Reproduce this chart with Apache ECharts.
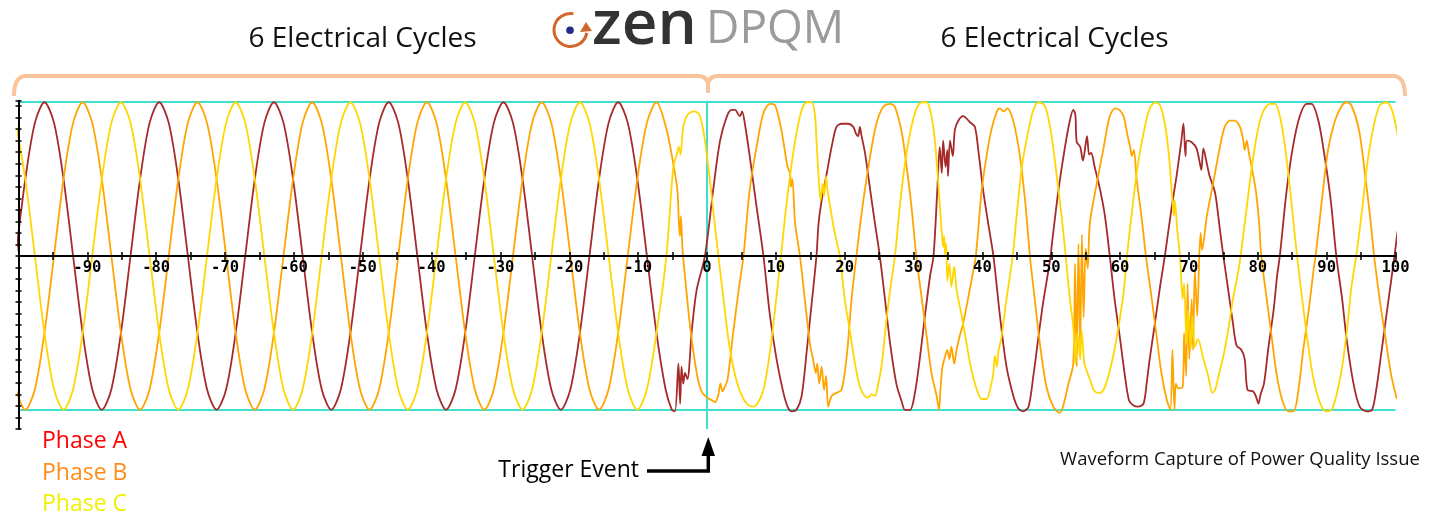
<!DOCTYPE html>
<html>
<head>
<meta charset="utf-8">
<title>Waveform Capture</title>
<script src="https://cdn.jsdelivr.net/npm/echarts@6/dist/echarts.min.js"></script>
<style>
html, body { margin: 0; padding: 0; background: #fff; }
#chart { width: 1438px; height: 513px; }
</style>
</head>
<body>
<div id="chart"></div>
<script>
// time in ms, values in % of nominal peak
// steady part before the event, one point every 30 degrees
var preTime = [
    -100.40, -99.01, -97.62, -96.23, -94.84, -93.46, -92.07, -90.68, -89.29, -87.90, -86.51, -85.12,
    -83.73, -82.34, -80.96, -79.57, -78.18, -76.79, -75.40, -74.01, -72.62, -71.23, -69.84, -68.46,
    -67.07, -65.68, -64.29, -62.90, -61.51, -60.12, -58.73, -57.34, -55.96, -54.57, -53.18, -51.79,
    -50.40, -49.01, -47.62, -46.23, -44.84, -43.46, -42.07, -40.68, -39.29, -37.90, -36.51, -35.12,
    -33.73, -32.34, -30.96, -29.57, -28.18, -26.79, -25.40, -24.01, -22.62, -21.23, -19.84, -18.46,
    -17.07, -15.68, -14.29, -12.90, -11.51, -10.12, -8.73, -7.34
];
var preA = [
    0, 50, 86.6, 100, 86.6, 50, 0, -50, -86.6, -100, -86.6, -50,
    0, 50, 86.6, 100, 86.6, 50, 0, -50, -86.6, -100, -86.6, -50,
    0, 50, 86.6, 100, 86.6, 50, 0, -50, -86.6, -100, -86.6, -50,
    0, 50, 86.6, 100, 86.6, 50, 0, -50, -86.6, -100, -86.6, -50,
    0, 50, 86.6, 100, 86.6, 50, 0, -50, -86.6, -100, -86.6, -50,
    0, 50, 86.6, 100, 86.6, 50, 0, -50
];
var preB = [
    -86.6, -100, -86.6, -50, 0, 50, 86.6, 100, 86.6, 50, 0, -50,
    -86.6, -100, -86.6, -50, 0, 50, 86.6, 100, 86.6, 50, 0, -50,
    -86.6, -100, -86.6, -50, 0, 50, 86.6, 100, 86.6, 50, 0, -50,
    -86.6, -100, -86.6, -50, 0, 50, 86.6, 100, 86.6, 50, 0, -50,
    -86.6, -100, -86.6, -50, 0, 50, 86.6, 100, 86.6, 50, 0, -50,
    -86.6, -100, -86.6, -50, 0, 50, 86.6, 100
];
var preC = [
    86.6, 50, 0, -50, -86.6, -100, -86.6, -50, 0, 50, 86.6, 100,
    86.6, 50, 0, -50, -86.6, -100, -86.6, -50, 0, 50, 86.6, 100,
    86.6, 50, 0, -50, -86.6, -100, -86.6, -50, 0, 50, 86.6, 100,
    86.6, 50, 0, -50, -86.6, -100, -86.6, -50, 0, 50, 86.6, 100,
    86.6, 50, 0, -50, -86.6, -100, -86.6, -50, 0, 50, 86.6, 100,
    86.6, 50, 0, -50, -86.6, -100, -86.6, -50
];

// disturbed part around and after the trigger, [ms, value]
var eventA = [
    [-6.0, -87], [-5.1, -100], [-4.65, -101], [-4.15, -70], [-3.9, -96], [-3.7, -72], [-3.45, -83],
    [-3.2, -76], [-2.85, -80], [-2.2, -48], [-1.5, -22], [-0.3, 0], [0.9, 43], [1.9, 75], [2.9, 91],
    [3.6, 95], [4.1, 95], [4.55, 92], [4.8, 91], [5.1, 94], [5.5, 86], [6.2, 65], [7.2, 32], [8.2, 0],
    [9.15, -39], [10.1, -67], [11.1, -89], [11.8, -99], [12.3, -101], [13.0, -100], [13.75, -91],
    [14.5, -61], [15.2, -31], [15.9, 0], [16.2, 21], [16.65, 36], [17.4, 54], [18.1, 71], [18.8, 84],
    [19.55, 86], [20.5, 86], [21.25, 84], [21.6, 80], [21.95, 78], [22.2, 84], [22.45, 78], [22.95, 67],
    [23.7, 43], [24.4, 21], [25.1, 0], [25.85, -28], [26.6, -57], [27.5, -83], [28.3, -95], [28.75, -100],
    [29.5, -100], [30.2, -89], [30.9, -67], [31.65, -39], [32.4, -13], [32.9, 0], [33.45, 43], [33.8, 71],
    [34.1, 54], [34.3, 75], [34.65, 58], [34.9, 69], [35.0, 52], [35.3, 75], [35.7, 65], [36.0, 82],
    [36.5, 88], [37.2, 91], [38.2, 87], [38.9, 84], [39.4, 69], [40.1, 43], [40.85, 21], [41.6, 0],
    [42.55, -39], [43.5, -72], [44.5, -91], [45.2, -99], [45.9, -101], [46.7, -98], [47.4, -78],
    [48.1, -54], [48.8, -31], [49.6, -9], [49.9, 0], [50.1, 8], [51.05, 43], [52.0, 71], [52.7, 88],
    [53.2, 95], [53.5, 92], [53.7, 74], [54.2, 71], [54.6, 62], [55.0, 73], [55.2, 78], [55.5, 66],
    [55.8, 67], [56.3, 58], [57.1, 43], [57.8, 26], [58.5, 0], [59.2, -28], [60.0, -54], [60.7, -78],
    [61.3, -94], [61.9, -97], [62.6, -98], [63.4, -96], [63.85, -83], [64.3, -67], [65.05, -44],
    [65.8, -20], [66.5, 0], [67.5, 32], [68.2, 52], [68.9, 75], [69.2, 86], [69.5, 65], [69.7, 75],
    [70.4, 74], [71.1, 70], [71.6, 60], [71.8, 56], [72.1, 70], [72.6, 60], [73.0, 52], [73.8, 41],
    [74.5, 17], [75.0, 0], [75.7, -22], [76.4, -44], [76.9, -58], [77.6, -61], [78.1, -67], [78.5, -87],
    [79.3, -88], [79.7, -91], [80.1, -96], [80.4, -90], [80.9, -83], [81.5, -61], [82.3, -35],
    [82.8, -13], [83.2, 0], [84.2, 43], [85.1, 71], [86.1, 91], [87.1, 99], [87.8, 99], [88.8, 88],
    [89.7, 65], [90.6, 36], [91.4, 0], [92.25, -28], [92.9, -54], [93.9, -83], [94.8, -98], [95.8, -101],
    [96.6, -100], [97.2, -87], [98.0, -61], [99.0, -28], [99.85, 0], [100.3, 16]
];
var eventB = [
    [-5.86, 82], [-4.9, 60], [-4.3, 43], [-4.08, 21], [-3.92, 13], [-3.8, 26], [-3.55, 4], [-3.2, -13],
    [-2.5, -44], [-1.5, -76], [-0.8, -88], [0.0, -92], [0.8, -94], [1.2, -95], [1.65, -90], [1.95, -83],
    [2.25, -88], [2.6, -85], [3.0, -80], [3.8, -50], [4.6, -22], [5.3, 0], [6.2, 43], [7.2, 71], [8.2, 93],
    [9.15, 99], [9.9, 98], [10.8, 82], [11.7, 58], [12.05, 54], [12.2, 45], [12.4, 50], [12.8, 21],
    [13.5, 0], [14.2, -28], [14.95, -57], [15.4, -67], [15.8, -76], [16.0, -70], [16.3, -83], [16.65, -72],
    [17.0, -87], [17.3, -78], [17.6, -98], [18.1, -91], [18.8, -89], [19.55, -87], [20.3, -65], [21.0, -28],
    [21.7, 0], [22.7, 36], [23.7, 65], [24.6, 86], [25.6, 97], [26.6, 99], [27.3, 97], [28.3, 80],
    [29.0, 58], [29.7, 32], [30.4, 0], [31.2, -28], [31.9, -52], [32.6, -76], [33.35, -91], [33.7, -100],
    [33.9, -87], [34.2, -72], [34.6, -65], [34.9, -61], [35.2, -67], [35.5, -59], [35.9, -70], [36.25, -61],
    [36.7, -52], [37.2, -44], [37.9, -28], [38.7, -9], [39.05, 0], [39.9, 43], [40.6, 65], [41.3, 82],
    [42.1, 94], [42.5, 96], [43.1, 94], [43.6, 96], [44.1, 93], [44.7, 84], [45.45, 65], [46.2, 36],
    [46.9, 0], [47.6, -28], [48.35, -57], [49.3, -85], [50.3, -98], [51.2, -102], [51.7, -98], [52.5, -83],
    [53.2, -70], [53.45, -5], [53.7, -72], [53.95, 8], [54.2, -60], [54.45, 14], [54.7, -40], [55.0, 5],
    [55.3, -8], [55.6, 21], [56.6, 47], [57.55, 69], [58.5, 91], [59.3, 96], [59.9, 95], [60.5, 91],
    [61.1, 78], [61.5, 70], [61.7, 65], [62.0, 69], [62.4, 50], [63.1, 26], [63.75, 0], [64.6, -28],
    [65.3, -52], [66.0, -76], [66.75, -93], [67.3, -100], [67.6, -61], [67.9, -100], [68.1, -83],
    [68.45, -86], [69.1, -85], [69.3, -50], [69.6, -78], [69.8, -18], [70.05, -67], [70.4, -28],
    [70.6, -61], [70.85, -9], [71.2, -39], [71.5, 0], [71.7, 15], [71.9, 4], [72.6, 26], [73.5, 47],
    [74.5, 71], [75.2, 84], [75.95, 88], [76.6, 88], [77.4, 84], [77.9, 75], [78.1, 69], [78.4, 75],
    [78.7, 67], [79.1, 58], [79.7, 43], [80.2, 21], [80.5, 0], [81.3, -28], [82.0, -52], [82.7, -76],
    [83.5, -93], [84.4, -101], [85.2, -101], [85.9, -87], [86.6, -61], [87.4, -35], [88.1, -9], [88.4, 0],
    [89.3, 36], [90.2, 69], [91.2, 88], [92.25, 98], [92.9, 100], [93.6, 98], [94.7, 82], [95.6, 52],
    [96.3, 26], [96.9, 0], [97.7, -28], [98.5, -52], [99.4, -78], [100.2, -93]
];
var eventC = [
    [-5.9, 0], [-4.9, 58], [-4.45, 65], [-4.1, 71], [-3.85, 66], [-3.45, 84], [-2.8, 92], [-1.85, 94],
    [-1.1, 92], [-0.4, 78], [0.3, 54], [1.0, 26], [1.65, 0], [2.4, -28], [3.1, -54], [3.8, -72],
    [4.55, -85], [5.3, -93], [6.0, -97], [6.7, -98], [7.45, -95], [8.2, -87], [8.9, -70], [9.6, -46],
    [10.2, -22], [10.75, 0], [11.5, 32], [12.3, 60], [13.0, 80], [13.75, 95], [14.5, 100], [15.2, 100],
    [15.7, 91], [15.9, 75], [16.2, 52], [16.5, 36], [16.8, 47], [17.0, 39], [17.3, 52], [17.5, 43],
    [17.9, 32], [18.3, 21], [18.8, 10], [19.3, 0], [20.0, -28], [20.8, -50], [21.5, -70], [22.2, -85],
    [22.9, -91], [23.4, -92], [23.9, -90], [24.4, -91], [24.7, -87], [25.4, -70], [26.0, -44], [26.6, -22],
    [27.3, 0], [28.0, 32], [28.75, 60], [29.5, 80], [30.35, 95], [31.2, 100], [31.9, 100], [32.6, 91],
    [33.1, 75], [33.6, 47], [34.1, 15], [34.3, 6], [34.45, 13], [34.6, 0], [34.75, 8], [34.9, -16],
    [35.2, -5], [35.5, -20], [35.9, -7], [36.25, -22], [37.0, -39], [37.7, -57], [38.4, -74], [39.2, -87],
    [39.9, -93], [40.6, -93], [41.2, -85], [41.6, -76], [41.8, -65], [42.1, -72], [42.3, -63], [42.8, -52],
    [43.5, -28], [44.4, 0], [45.1, 32], [45.8, 60], [46.7, 82], [47.4, 95], [48.1, 100], [48.8, 99],
    [49.3, 95], [50.05, 78], [50.8, 52], [51.5, 26], [52.1, 0], [52.7, -28], [53.2, -46], [53.5, -70],
    [53.8, -50], [54.2, -67], [54.4, -48], [54.8, -70], [55.1, -74], [55.6, -80], [56.3, -88], [57.1, -89],
    [57.7, -86], [58.3, -78], [59.0, -65], [59.7, -48], [60.5, -24], [61.0, 0], [61.8, 32], [62.6, 60],
    [63.5, 82], [64.3, 96], [65.1, 100], [65.8, 98], [66.5, 86], [67.1, 65], [67.6, 36], [67.8, 26],
    [67.95, 36], [68.3, 17], [68.7, 0], [69.1, -28], [69.3, -18], [69.65, -57], [69.9, -35], [70.25, -61],
    [70.5, -39], [70.85, -59], [71.3, -54], [72.1, -67], [72.8, -78], [73.4, -89], [73.8, -87], [74.3, -78],
    [75.0, -65], [75.7, -48], [76.4, -28], [77.2, -9], [77.5, 0], [78.4, 32], [79.2, 60], [80.1, 84],
    [80.9, 95], [81.8, 99], [82.5, 99], [83.2, 91], [83.9, 73], [84.7, 43], [85.2, 21], [85.7, 0],
    [86.45, -28], [87.2, -54], [88.0, -78], [89.0, -95], [89.95, -101], [90.7, -100], [91.4, -91],
    [92.25, -72], [93.0, -46], [93.6, -20], [94.3, 0], [95.2, 32], [95.9, 60], [96.8, 84], [97.7, 98],
    [98.7, 100], [99.4, 96], [99.9, 88], [100.3, 79]
];

var phaseNames = ['Phase A', 'Phase B', 'Phase C'];
var lineColors = ['#a52a2a', '#ffa500', '#ffd700'];
var labelColors = ['#ff0000', '#ff8c1a', '#f0f000'];
var nominalPeak = 100;
var triggerTime = 0;

function joinData(pre, ev) {
    var out = [];
    for (var i = 0; i < preTime.length; i++) {
        out.push([preTime[i], pre[i]]);
    }
    return out.concat(ev);
}

var chart = echarts.init(document.getElementById('chart'));

var axisFont = 'DejaVu Sans Mono';
var textFont = '"Open Sans"';
var braceColor = '#f9c39b';

// grid: y range -112.5..101 over 328.3px, so value 0 sits 173px above the bottom edge
var zeroOffset = -173;

function braceLine(x1, y1, x2, y2) {
    return { type: 'line', shape: { x1: x1, y1: y1, x2: x2, y2: y2 }, style: { stroke: braceColor, lineWidth: 4 } };
}
function braceCurve(x1, y1, cx, cy, x2, y2) {
    return { type: 'bezierCurve', shape: { x1: x1, y1: y1, cpx1: cx, cpy1: cy, x2: x2, y2: y2 }, style: { stroke: braceColor, lineWidth: 4, fill: null } };
}
function label(text, x, y, size, color, align) {
    return {
        type: 'text',
        style: { text: text, x: x, y: y, textAlign: align || 'left', textVerticalAlign: 'middle', fill: color, font: size + 'px ' + textFont }
    };
}

var option = {
    animation: false,
    backgroundColor: '#ffffff',
    grid: { left: 18.5, right: 42.5, top: 100.7, bottom: 84, containLabel: false },
    xAxis: [{
        type: 'value',
        position: 'bottom',
        offset: zeroOffset,
        min: -100,
        max: 100,
        interval: 5,
        z: 5,
        axisLine: { onZero: false, lineStyle: { color: '#000', width: 2 } },
        axisTick: { show: true, length: 4, lineStyle: { color: '#000', width: 1.5 } },
        axisLabel: {
            margin: 4,
            color: '#000',
            fontFamily: axisFont,
            fontWeight: 'bold',
            fontSize: 15.5,
            formatter: function (v) {
                return (v % 10 === 0 && v > -100) ? String(v) : '';
            }
        },
        splitLine: { show: false }
    }, {
        type: 'value',
        position: 'bottom',
        offset: zeroOffset,
        min: -100,
        max: 100,
        interval: 5,
        z: 5,
        axisLine: { show: false, onZero: false },
        axisTick: { show: true, inside: true, length: 4, lineStyle: { color: '#000', width: 1.5 } },
        axisLabel: { show: false },
        splitLine: { show: false }
    }],
    yAxis: [{
        type: 'value',
        min: -112.5,
        max: 101,
        interval: 7.5,
        z: 5,
        axisLine: { show: true, onZero: false, lineStyle: { color: '#000', width: 2 } },
        axisTick: { show: true, length: 3, lineStyle: { color: '#000', width: 1.5 } },
        axisLabel: { show: false },
        splitLine: { show: false }
    }, {
        type: 'value',
        position: 'left',
        min: -112.5,
        max: 101,
        interval: 7.5,
        z: 5,
        axisLine: { show: false, onZero: false },
        axisTick: { show: true, inside: true, length: 3, lineStyle: { color: '#000', width: 1.5 } },
        axisLabel: { show: false },
        splitLine: { show: false }
    }],
    series: [
        {
            name: phaseNames[0],
            type: 'line',
            data: joinData(preA, eventA),
            showSymbol: false,
            smooth: 0.3,
            lineStyle: { color: lineColors[0], width: 1.8 },
            itemStyle: { color: lineColors[0] },
            markLine: {
                silent: true,
                symbol: ['none', 'none'],
                z: 1,
                label: { show: false },
                lineStyle: { color: '#40e0d0', width: 2, type: 'solid' },
                data: [{ yAxis: nominalPeak }, { yAxis: -nominalPeak }, { xAxis: triggerTime }]
            }
        },
        {
            name: phaseNames[1],
            type: 'line',
            data: joinData(preB, eventB),
            showSymbol: false,
            smooth: 0.3,
            lineStyle: { color: lineColors[1], width: 1.8 },
            itemStyle: { color: lineColors[1] }
        },
        {
            name: phaseNames[2],
            type: 'line',
            data: joinData(preC, eventC),
            showSymbol: false,
            smooth: 0.3,
            lineStyle: { color: lineColors[2], width: 1.8 },
            itemStyle: { color: lineColors[2] }
        }
    ],
    graphic: [
        // braces over each half
        braceCurve(14, 96, 14, 76, 26, 76),
        braceLine(26, 76, 698, 76),
        braceCurve(698, 76, 708, 76, 708, 86),
        braceLine(708, 86, 708, 93),
        braceCurve(718, 76, 708, 76, 708, 86),
        braceLine(718, 76, 1393, 76),
        braceCurve(1393, 76, 1405, 76, 1405, 96),
        label('6 Electrical Cycles', 362.5, 39, 28, '#111', 'center'),
        label('6 Electrical Cycles', 1054.5, 39, 28, '#111', 'center'),
        // logo
        {
            type: 'arc',
            shape: { cx: 570.5, cy: 30, r: 16.5, startAngle: 10 * Math.PI / 180, endAngle: 280 * Math.PI / 180, clockwise: true },
            style: { stroke: '#d2672d', lineWidth: 3, fill: null }
        },
        {
            type: 'polygon',
            shape: { points: [[586, 22], [580, 32], [592, 31]] },
            style: { fill: '#d2672d' }
        },
        {
            type: 'circle',
            shape: { cx: 570, cy: 30.3, r: 3.8 },
            style: { fill: '#252a8a' }
        },
        {
            type: 'text',
            style: { text: 'zen', x: 592, y: 26, textAlign: 'left', textVerticalAlign: 'middle', fill: '#333333', font: '600 62px ' + textFont }
        },
        {
            type: 'text',
            style: { text: 'DPQM', x: 706, y: 30, textAlign: 'left', textVerticalAlign: 'middle', fill: '#9b9b9b', font: '46px ' + textFont }
        },
        // phase names
        label(phaseNames[0], 42, 441, 23, labelColors[0]),
        label(phaseNames[1], 42, 473, 23, labelColors[1]),
        label(phaseNames[2], 42, 504, 23, labelColors[2]),
        // trigger annotation
        label('Trigger Event', 639, 470, 23, '#000', 'right'),
        {
            type: 'polyline',
            shape: { points: [[647, 471], [708.3, 471], [708.3, 454]] },
            style: { stroke: '#000', lineWidth: 3.5, fill: null }
        },
        {
            type: 'polygon',
            shape: { points: [[708.3, 437], [701.5, 456], [715, 456]] },
            style: { fill: '#000' }
        },
        label('Waveform Capture of Power Quality Issue', 1240, 460, 18.5, '#111', 'center')
    ]
};

chart.setOption(option);
</script>
</body>
</html>
